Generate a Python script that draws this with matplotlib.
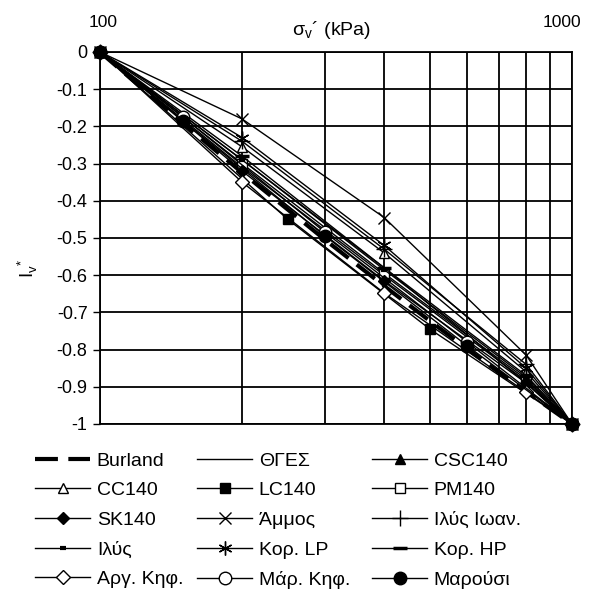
import matplotlib
matplotlib.use("Agg")
import matplotlib.pyplot as plt
import matplotlib.transforms as mtransforms
from matplotlib.ticker import NullFormatter

plt.rcParams['font.family'] = ['Liberation Sans', 'DejaVu Sans']
plt.rcParams['axes.unicode_minus'] = False

# ---- data ----
burland_x = [100, 150, 200, 300, 400, 500, 600, 700, 800, 900, 1000]
burland_y = [0, -0.192, -0.324, -0.505, -0.629, -0.723, -0.798, -0.861, -0.913, -0.959, -1.0]

thges_x = [100, 200, 300, 400, 500, 600, 700, 800, 900, 1000]
thges_y = [0, -0.29, -0.46, -0.58, -0.68, -0.76, -0.83, -0.89, -0.95, -1.0]

std_x = [100, 200, 400, 800, 1000]
csc140_y = [0, -0.31, -0.60, -0.885, -1.0]
cc140_y = [0, -0.255, -0.54, -0.86, -1.0]
pm140_y = [0, -0.30, -0.595, -0.88, -1.0]
sk140_y = [0, -0.32, -0.615, -0.89, -1.0]
ammos_y = [0, -0.18, -0.445, -0.815, -1.0]
ilys_ioan_y = [0, -0.24, -0.53, -0.84, -1.0]
ilys_y = [0, -0.29, -0.585, -0.875, -1.0]
kor_lp_y = [0, -0.23, -0.52, -0.85, -1.0]
kor_hp_y = [0, -0.28, -0.58, -0.87, -1.0]
arg_kif_y = [0, -0.35, -0.648, -0.915, -1.0]

lc140_x = [100, 250, 500, 1000]
lc140_y = [0, -0.45, -0.745, -1.0]

mar_x = [100, 150, 300, 600, 1000]
mar_kif_y = [0, -0.175, -0.485, -0.78, -1.0]
marousi_y = [0, -0.185, -0.495, -0.79, -1.0]

labels = ['Burland', 'ΘΓΕΣ', 'CSC140', 'CC140', 'LC140', 'PM140', 'SK140',
          'Άμμος', 'Ιλύς Ιωαν.', 'Ιλύς', 'Κορ. LP', 'Κορ. HP',
          'Αργ. Κηφ.', 'Μάρ. Κηφ.', 'Μαρούσι']
yticks = [0, -0.1, -0.2, -0.3, -0.4, -0.5, -0.6, -0.7, -0.8, -0.9, -1]
ytick_labels = ['0', '-0.1', '-0.2', '-0.3', '-0.4', '-0.5', '-0.6', '-0.7', '-0.8', '-0.9', '-1']

W, H = 590, 602
fig = plt.figure(figsize=(W / 100, H / 100), dpi=100)
ax = fig.add_axes([100 / W, 1 - 424 / H, 472 / W, 372 / H])

k = dict(color='black', lw=1.0, clip_on=False)
h = {}
h['Burland'], = ax.plot(burland_x, burland_y, color='black', lw=3, ls=(0, (5.5, 2.5)),
                        zorder=2, clip_on=False)
h['ΘΓΕΣ'], = ax.plot(thges_x, thges_y, **k)
h['CSC140'], = ax.plot(std_x, csc140_y, marker='^', ms=7.5, mfc='black', **k)
h['CC140'], = ax.plot(std_x, cc140_y, marker='^', ms=7.5, mfc='white', **k)
h['LC140'], = ax.plot(lc140_x, lc140_y, marker='s', ms=7, mfc='black', **k)
h['PM140'], = ax.plot(std_x, pm140_y, marker='s', ms=7, mfc='white', **k)
h['SK140'], = ax.plot(std_x, sk140_y, marker='D', ms=6.5, mfc='black', **k)
h['Άμμος'], = ax.plot(std_x, ammos_y, marker='x', ms=9, mew=1.0, **k)
h['Ιλύς Ιωαν.'], = ax.plot(std_x, ilys_ioan_y, marker='+', ms=12, mew=1.0, **k)
h['Ιλύς'], = ax.plot(std_x, ilys_y, marker='_', ms=5, mew=3, **k)
h['Κορ. LP'], = ax.plot(std_x, kor_lp_y, marker=(6, 2, 0), ms=10, mew=1.0, **k)
h['Κορ. HP'], = ax.plot(std_x, kor_hp_y, marker='_', ms=10, mew=2.5, **k)
h['Αργ. Κηφ.'], = ax.plot(std_x, arg_kif_y, marker='D', ms=7, mfc='white', **k)
h['Μάρ. Κηφ.'], = ax.plot(mar_x, mar_kif_y, marker='o', ms=9, mfc='white', **k)
h['Μαρούσι'], = ax.plot(mar_x, marousi_y, marker='o', ms=9, mfc='black', **k)

ax.set_xscale('log')
ax.set_xlim(100, 1000)
ax.set_ylim(-1, 0)
ax.xaxis.tick_top()
ax.set_xticks([100, 1000])
ax.set_xticklabels(['100', '1000'])
ax.set_xticks([200, 300, 400, 500, 600, 700, 800, 900], minor=True)
ax.xaxis.set_minor_formatter(NullFormatter())
ax.tick_params(axis='x', which='both', length=0, pad=16, labelsize=12.5)
ax.set_yticks(yticks)
ax.set_yticklabels(ytick_labels)
ax.tick_params(axis='y', length=5, width=1, direction='out', labelsize=13, pad=4)
ax.grid(True, which='both', color='black', lw=1.3)
ax.set_axisbelow(True)
for s in ax.spines.values():
    s.set_linewidth(1.3)

# shift top tick labels slightly
shifts = [3, -10]
for lab, dx in zip(ax.xaxis.get_majorticklabels(), shifts):
    lab.set_transform(lab.get_transform() +
                      mtransforms.ScaledTranslation(dx / 100, 0, fig.dpi_scale_trans))

fig.text(331 / W, 1 - 30 / H, 'σ$_\\mathregular{v}$´ (kPa)', fontsize=14,
         ha='center', va='center')
ax.set_ylabel('I$_\\mathregular{v}$$^\\mathregular{*}$', fontsize=13.5)
ax.yaxis.set_label_coords(-0.127, 0.42)

col_x = [35, 197, 372]
for c in range(3):
    names = [labels[r * 3 + c] for r in range(5)]
    fig.legend([h[n] for n in names], names, loc='upper left',
               bbox_to_anchor=(col_x[c] / W, 1 - 452 / H), frameon=False,
               fontsize=14, handlelength=2.85, handletextpad=0.33,
               labelspacing=0.62, borderpad=0, borderaxespad=0)

fig.savefig('out.png', dpi=100)
